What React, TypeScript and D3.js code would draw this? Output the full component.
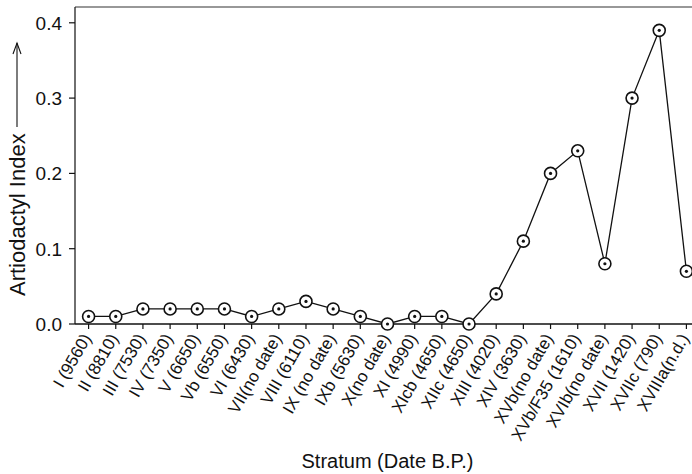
import React from "react";
import * as d3 from "d3";

const strata: string[] = [
  "I (9560)", "II (8810)", "III (7530)", "IV (7350)", "V (6650)", "Vb (6550)",
  "VI (6430)", "VII(no date)", "VIII (6110)", "IX (no date)", "IXb (5630)",
  "X(no date)", "XI (4990)", "XIcb (4650)", "XIIc (4650)", "XIII (4020)",
  "XIV (3630)", "XVb(no date)", "XVb/F35 (1610)", "XVIb(no date)",
  "XVII (1420)", "XVIIc (790)", "XVIIIa(n.d.)",
];
const artiodactylIndex: number[] = [
  0.01, 0.01, 0.02, 0.02, 0.02, 0.02, 0.01, 0.02, 0.03, 0.02, 0.01, 0.0,
  0.01, 0.01, 0.0, 0.04, 0.11, 0.2, 0.23, 0.08, 0.3, 0.39, 0.07,
];
const yTicks: number[] = [0, 0.1, 0.2, 0.3, 0.4];
const yTickLabels: string[] = ["0.0", "0.1", "0.2", "0.3", "0.4"];
const xTitle = "Stratum (Date B.P.)";
const yTitle = "Artiodactyl Index";

const W = 692;
const H = 474;
const left = 75;
const right = 700;
const top = 7;
const bottom = 324;
const font = "'Liberation Sans', Arial, Helvetica, sans-serif";

export default function App() {
  const x = d3.scalePoint<string>().domain(strata).range([left, right]).padding(0.5);
  const y = d3.scaleLinear().domain([0, 0.4]).range([bottom, bottom - 0.4 * 753]);
  const pts = strata.map((s, i) => [x(s) as number, y(artiodactylIndex[i])] as [number, number]);
  const line = d3.line()(pts) || "";
  const ink = "#111";
  return (
    <svg width={W} height={H} style={{ position: "absolute", left: 0, top: 0, background: "#fff" }} fontFamily={font}>
      <rect width={W} height={H} fill="#fff" />
      {/* frame */}
      <line x1={left} x2={W} y1={top} y2={top} stroke="#333" strokeWidth={1.2} />
      <line x1={left} x2={left} y1={top} y2={bottom} stroke="#222" strokeWidth={1.3} />
      <line x1={left} x2={W} y1={bottom} y2={bottom} stroke="#111" strokeWidth={1.5} />
      {/* y ticks */}
      {yTicks.map((t, i) => (
        <g key={"y" + i}>
          <line x1={left - 6} x2={left} y1={y(t)} y2={y(t)} stroke={ink} strokeWidth={1.2} />
          <text x={62} y={y(t)} dy="0.36em" textAnchor="end" fontSize={19} fill={ink}>
            {yTickLabels[i]}
          </text>
        </g>
      ))}
      {/* x ticks */}
      {strata.map((s) => (
        <g key={"x" + s}>
          <line x1={x(s)} x2={x(s)} y1={bottom} y2={bottom + 5} stroke={ink} strokeWidth={1.2} />
          <text
            transform={`translate(${(x(s) as number) - 2},${bottom + 11}) rotate(-60)`}
            textAnchor="end"
            dy="0.35em"
            fontSize={17}
            fill={ink}
          >
            {s}
          </text>
        </g>
      ))}
      {/* data */}
      <path d={line} fill="none" stroke={ink} strokeWidth={1.3} />
      {pts.map((p, i) => (
        <g key={"p" + i}>
          <circle cx={p[0]} cy={p[1]} r={6} fill="#fff" stroke={ink} strokeWidth={1.6} />
          <circle cx={p[0]} cy={p[1]} r={1.6} fill={ink} />
        </g>
      ))}
      {/* titles */}
      <text x={(left + right) / 2} y={468} textAnchor="middle" fontSize={20} fill={ink}>
        {xTitle}
      </text>
      <text transform={`translate(25,296) rotate(-90)`} textAnchor="start" fontSize={22} fill={ink}>
        {yTitle}
      </text>
      <line x1={17} x2={17} y1={127} y2={43} stroke={ink} strokeWidth={1.1} />
      <path d="M13,54 L17,43 L21,54" fill="none" stroke={ink} strokeWidth={1.1} />
    </svg>
  );
}
